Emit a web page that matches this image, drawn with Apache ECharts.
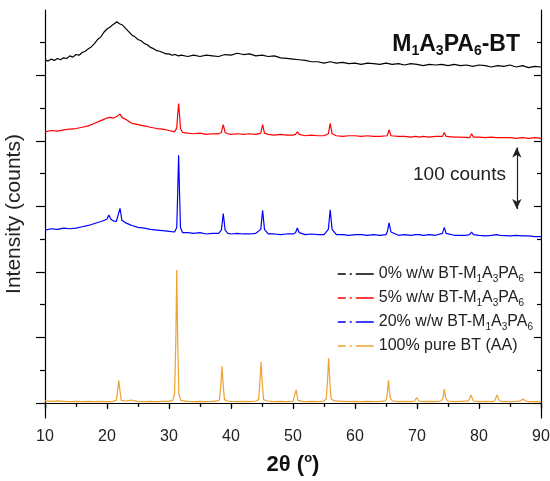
<!DOCTYPE html>
<html>
<head>
<meta charset="utf-8">
<script src="https://cdn.jsdelivr.net/npm/echarts@6/dist/echarts.min.js"></script>
<style>
  html, body { margin: 0; padding: 0; background: #fff; }
  #chart { width: 550px; height: 481px; }
</style>
</head>
<body>
<div id="chart"></div>
<script>
// [2theta, counts], traces already stacked with their offsets
var pattern0 = [
  [10,524],[10.5,522],[11,525],[11.5,523],[12,526],[12.5,524],[13,527],[13.5,526],[14,530],[14.5,528],
  [15,532],[15.5,531],[16,535],[16.5,537],[17,541],[17.5,544],[18,549],[18.5,555],[19,559],[19.5,566],
  [20,571],[20.5,574],[21,578],[21.3,576],[21.6,582],[22,579],[22.5,577],[23,572],[23.5,567],[24,562],
  [24.5,559],[25,555],[25.5,553],[26,549],[26.5,547],[27,543],[27.5,541],[28,538],[28.5,537],[29,535],
  [29.5,533],[30,533],[30.5,531],[31,532],[31.5,530],[32,531],[33,529],[34,531],[35,529],[36,531],
  [37,530],[38,529],[39,532],[40,531],[41,534],[42,532],[43,533],[44,530],[45,531],[46,529],
  [47,530],[48,527],[49,526],[50,525],[51,524],[52,523],[53,521],[54,521],[55,519],[56,521],
  [57,519],[58,520],[59,518],[60,519],[61,517],[62,519],[63,518],[64,517],[65,519],[66,517],
  [67,518],[68,516],[69,518],[70,517],[71,515],[72,517],[73,516],[74,517],[75,515],[76,517],
  [77,515],[78,516],[79,514],[80,516],[81,515],[82,513],[83,515],[84,514],[85,516],[86,513],
  [87,515],[88,512],[89,514],[90,513]
];
var pattern5 = [
  [10,414],[11,416],[12,415],[13,417],[14,418],[15,419],[16,421],[17,423],[18,427],[19,431],
  [19.5,433],[20,435],[20.5,436],[21,435],[21.5,437],[21.8,436],[22.1,441],[22.4,436],[23,433],[23.5,430],
  [24,427],[25,425],[26,423],[27,421],[28,419],[29,418],[30,416],[30.9,414],[31.25,420],[31.4,440],
  [31.55,457],[31.7,440],[31.85,419],[32.2,413],[33,412],[34,411],[35,412],[36,410],[37,411],[38,411],
  [38.45,413],[38.75,425],[39.05,413],[39.5,411],[40,410],[41,411],[42,410],[43,411],[44,410],[44.8,412],
  [45.1,425],[45.4,412],[46,410],[47,409],[48,410],[49,409],[50,409],[50.4,410],[50.7,414],[51,410],
  [52,408],[53,409],[54,408],[55,408],[55.7,411],[56.0,427],[56.3,411],[57,408],[58,407],[59,408],
  [60,408],[61,407],[62,408],[63,407],[64,407],[65.2,408],[65.5,417],[65.8,408],[67,407],[68,407],
  [69,406],[69.8,407],[70.1,409],[70.4,406],[71,407],[72,406],[73,407],[74.1,407],[74.4,413],[74.7,407],
  [76,406],[77,406],[78.5,405],[78.8,411],[79.1,406],[80,406],[81,405],[82,406],[82.8,405],[83.1,408],
  [83.4,405],[84,405],[85,405],[86,404],[87,405],[88,404],[89,405],[90,404]
];
var pattern20 = [
  [10,264],[11,266],[12,265],[13,267],[14,266],[15,267],[16,269],[17,271],[18,274],[19,277],
  [19.6,279],[20.0,281],[20.3,287],[20.6,281],[21,278],[21.5,277],[21.8,280],[22.1,297],[22.4,279],[23,275],
  [23.5,273],[24,271],[25,268],[26,267],[27,265],[28,264],[29,263],[30,262],[30.9,261],[31.25,268],
  [31.4,320],[31.55,378],[31.7,320],[31.85,268],[32.2,260],[33,260],[34,259],[35,260],[36,258],[37,259],
  [38,259],[38.45,264],[38.75,289],[39.05,264],[39.5,259],[40,258],[41,259],[42,258],[43,258],[44,259],
  [44.8,265],[45.1,294],[45.4,265],[46,258],[47,258],[48,257],[49,258],[50,258],[50.4,260],[50.7,267],
  [51,260],[52,257],[53,258],[54,257],[55,257],[55.7,265],[56.0,295],[56.3,265],[57,257],[58,257],
  [59,256],[60,257],[61,257],[62,256],[63,257],[64,256],[65,257],[65.2,261],[65.5,275],[65.8,261],
  [67,256],[68,257],[69,256],[69.8,257],[70.1,260],[70.4,257],[71,256],[72,257],[73,256],[74.1,259],
  [74.4,268],[74.7,259],[76,256],[77,256],[78,256],[78.5,257],[78.8,261],[79.1,257],[80,256],[81,255],
  [82,256],[82.8,257],[83.1,260],[83.4,256],[85,255],[86,256],[87,255],[88,255],[89,254],[90,254]
];
var patternBT = [
  [10,3],[11,2.5],[12,3],[13,2.5],[14,2],[15,2.5],[16,2],[17,2.5],[18,2],[19,2.5],
  [20,2],[21,2.5],[21.5,4],[21.7,18],[21.9,34],[22.1,18],[22.3,4],[23,3],[23.5,3.5],[23.9,4.5],
  [24.3,3.5],[25,2.5],[26,2],[27,2.5],[28,2],[29,2.5],[30,2.5],[30.6,4],[30.9,14],[31.1,95],
  [31.25,203],[31.4,95],[31.6,14],[31.9,4],[33,2.5],[34,2],[35,2.5],[36,2],[37,2.5],[37.8,3],
  [38.15,5],[38.35,26],[38.55,56],[38.75,26],[38.95,5],[39.4,3],[40,2.5],[41,2],[42,2.5],[43,2],
  [44,3],[44.45,5],[44.65,29],[44.85,63],[45.05,29],[45.25,5],[45.8,3],[47,2],[48,2.5],[49,2],
  [50,2.5],[50.2,4],[50.5,20],[50.8,4],[51.5,2.5],[52,2],[53,2.5],[54,2],[55,3],[55.35,6],
  [55.55,31],[55.75,68],[55.95,31],[56.15,6],[56.7,3],[58,2.5],[59,2],[60,2.5],[61,2],[62,2.5],
  [63,2],[64,2.5],[64.9,3],[65.1,7],[65.25,18],[65.4,35],[65.55,18],[65.7,7],[66.1,3],[67,2],
  [68,2.5],[69,2],[69.6,3],[69.95,8],[70.3,3],[71,2],[72,2.5],[73,2],[73.9,3],[74.2,8],
  [74.4,21],[74.6,8],[74.9,3],[76,2],[77,2.5],[78.3,3],[78.7,12],[79.1,3],[80,2],[81,2.5],
  [82,2],[82.5,3],[82.9,12],[83.3,3],[84,2],[85,2],[86,2.5],[86.7,3],[87.1,6],[87.5,3],
  [88,2],[89,2],[90,1.5]
];

var seriesNames = ['0% w/w BT-M1A3PA6', '5% w/w BT-M1A3PA6', '20% w/w BT-M1A3PA6', '100% pure BT (AA)'];
var legendLabels = [
  '0% w/w BT-M{sub|1}A{sub|3}PA{sub|6}',
  '5% w/w BT-M{sub|1}A{sub|3}PA{sub|6}',
  '20% w/w BT-M{sub|1}A{sub|3}PA{sub|6}',
  '100% pure BT (AA)'
];
var seriesColors = ['#000000', '#ff0000', '#0000ff', '#eea232'];
var patterns = [pattern0, pattern5, pattern20, patternBT];

var majorTicks = [0, 100, 200, 300, 400, 500];
var minorTicks = [50, 150, 250, 350, 450, 550];
var countsMin = -23;
var countsMax = 600;

var font = 'Arial, "Liberation Sans", sans-serif';

function yAxisFor(pos, ticks, len, inside, showLine) {
  return {
    type: 'value',
    position: pos,
    min: countsMin,
    max: countsMax,
    axisLine: { show: showLine, lineStyle: { color: '#000', width: 1.2 } },
    axisTick: { show: true, inside: inside, length: len, customValues: ticks, lineStyle: { color: '#000', width: 1.2 } },
    axisLabel: { show: false, customValues: ticks },
    splitLine: { show: false }
  };
}

var myChart = echarts.init(document.getElementById('chart'));

var yAxes = [
  yAxisFor('left', majorTicks, 9, false, true),
  yAxisFor('left', minorTicks, 5, false, false),
  yAxisFor('right', majorTicks, 7, true, true),
  yAxisFor('right', minorTicks, 4, true, false)
];
yAxes[0].name = 'Intensity (counts)';
yAxes[0].nameLocation = 'middle';
yAxes[0].nameGap = 20;
yAxes[0].nameTextStyle = { fontFamily: font, fontSize: 21, color: '#222' };

var series = patterns.map(function (data, i) {
  return {
    name: seriesNames[i],
    type: 'line',
    data: data,
    symbol: 'none',
    silent: true,
    lineStyle: { color: seriesColors[i], width: 1.2 },
    itemStyle: { color: seriesColors[i] },
    z: 2 + i
  };
});
// scale bar: 100 counts
series[0].markLine = {
  silent: true,
  symbol: ['arrow', 'arrow'],
  symbolSize: [7, 10],
  label: { show: false },
  lineStyle: { color: '#222', type: 'solid', width: 1.2 },
  data: [[{ coord: [86.1, 296] }, { coord: [86.1, 390] }]]
};

myChart.setOption({
  animation: false,
  title: {
    text: '{b|M}{s|1}{b|A}{s|3}{b|PA}{s|6}{b|-BT}',
    right: 25,
    top: 26,
    textStyle: {
      rich: {
        b: { fontFamily: font, fontSize: 23, fontWeight: 'bold', color: '#111', lineHeight: 27 },
        s: { fontFamily: font, fontSize: 14, fontWeight: 'bold', color: '#111', lineHeight: 9, verticalAlign: 'bottom' }
      }
    }
  },
  legend: {
    orient: 'vertical',
    left: 337,
    top: 264,
    padding: 0,
    itemWidth: 36,
    itemHeight: 14,
    itemGap: 4,
    data: seriesNames,
    itemStyle: { opacity: 0 },
    lineStyle: { type: [8, 4, 2, 4, 18, 4], width: 1.5 },
    formatter: function (name) {
      return legendLabels[seriesNames.indexOf(name)];
    },
    textStyle: {
      fontFamily: font,
      fontSize: 16,
      color: '#222',
      lineHeight: 20,
      rich: {
        sub: { fontFamily: font, fontSize: 10, color: '#222', lineHeight: 8, verticalAlign: 'bottom' }
      }
    }
  },
  grid: { left: 45, right: 9, top: 10, bottom: 63, outerBoundsMode: 'none' },
  xAxis: [
    {
      type: 'value',
      position: 'bottom',
      min: 10,
      max: 90,
      interval: 10,
      name: '2θ ({sup|o})',
      nameLocation: 'middle',
      nameGap: 34,
      nameTextStyle: {
        fontFamily: font, fontSize: 22, fontWeight: 'bold', color: '#111', lineHeight: 26,
        rich: { sup: { fontFamily: font, fontSize: 13, fontWeight: 'bold', color: '#111', lineHeight: 12, verticalAlign: 'top' } }
      },
      axisLine: { lineStyle: { color: '#000', width: 1.2 } },
      axisTick: { inside: false, length: 6, lineStyle: { color: '#000', width: 1.2 } },
      minorTick: { show: true, splitNumber: 2, length: 3, lineStyle: { color: '#000', width: 1.2 } },
      axisLabel: { fontFamily: font, fontSize: 16, color: '#222', margin: 11 },
      splitLine: { show: false },
      minorSplitLine: { show: false }
    },
    {
      type: 'value',
      position: 'top',
      min: 10,
      max: 90,
      interval: 10,
      axisLine: { lineStyle: { color: '#000', width: 1.2 } },
      axisTick: { inside: true, length: 5, lineStyle: { color: '#000', width: 1.2 } },
      minorTick: { show: true, splitNumber: 2, length: 4, lineStyle: { color: '#000', width: 1.2 } },
      axisLabel: { show: false },
      splitLine: { show: false }
    }
  ],
  yAxis: yAxes,
  graphic: [
    {
      type: 'text',
      left: 413,
      top: 165,
      style: { text: '100 counts', font: '19px ' + font, fill: '#222' }
    }
  ],
  series: series
});
</script>
</body>
</html>
